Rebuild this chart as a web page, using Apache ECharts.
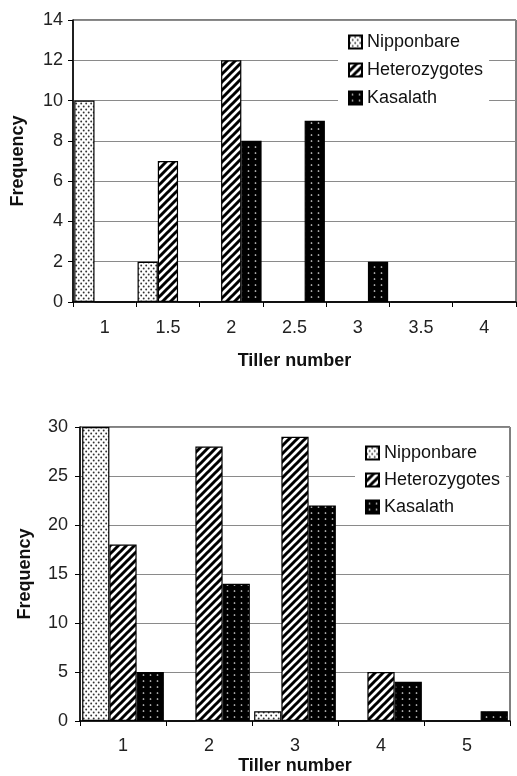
<!DOCTYPE html>
<html>
<head>
<meta charset="utf-8">
<script src="https://cdn.jsdelivr.net/npm/echarts@6/dist/echarts.min.js"></script>
<style>
html,body{margin:0;padding:0;background:#fff;}
#c{width:517px;height:776px;}
</style>
</head>
<body>
<div id="c"></div>
<script>
// ---- data ----
var seriesNames = ['Nipponbare', 'Heterozygotes', 'Kasalath'];

var topCategories = ['1', '1.5', '2', '2.5', '3', '3.5', '4'];
var topNipponbare = [10, 2, 0, 0, 0, 0, 0];
var topHeterozygotes = [0, 7, 12, 0, 0, 0, 0];
var topKasalath = [0, 0, 8, 9, 2, 0, 0];

var bottomCategories = ['1', '2', '3', '4', '5'];
var bottomNipponbare = [30, 0, 1, 0, 0];
var bottomHeterozygotes = [18, 28, 29, 5, 0];
var bottomKasalath = [5, 14, 22, 4, 1];

var xAxisTitle = 'Tiller number';
var yAxisTitle = 'Frequency';

// ---- patterns ----
function makeCanvas(w, h) {
  var c = document.createElement('canvas');
  c.width = w; c.height = h;
  return c;
}
function dotsPattern() {
  var c = makeCanvas(5, 6), g = c.getContext('2d');
  g.fillStyle = '#fff'; g.fillRect(0, 0, 5, 6);
  g.fillStyle = '#333';
  g.beginPath(); g.arc(1.2, 1.5, 0.95, 0, Math.PI * 2); g.fill();
  g.beginPath(); g.arc(3.7, 4.5, 0.95, 0, Math.PI * 2); g.fill();
  return c;
}
function stripePattern() {
  var s = 8;
  var c = makeCanvas(s, s), g = c.getContext('2d');
  g.fillStyle = '#fff'; g.fillRect(0, 0, s, s);
  g.strokeStyle = '#000'; g.lineWidth = 3;
  g.beginPath();
  g.moveTo(-2, s + 2); g.lineTo(s + 2, -2);
  g.moveTo(-s / 2 - 2, s / 2 + 2); g.lineTo(s / 2 + 2, -s / 2 - 2);
  g.moveTo(s / 2 - 2, s * 1.5 + 2); g.lineTo(s * 1.5 + 2, s / 2 - 2);
  g.stroke();
  return c;
}
function darkDotsPattern() {
  var c = makeCanvas(7, 6), g = c.getContext('2d');
  g.fillStyle = '#000'; g.fillRect(0, 0, 7, 6);
  g.fillStyle = '#e0e0e0';
  g.beginPath(); g.arc(3.5, 3, 0.85, 0, Math.PI * 2); g.fill();
  return c;
}
var fills = [
  { image: dotsPattern(), repeat: 'repeat' },
  { image: stripePattern(), repeat: 'repeat' },
  { image: darkDotsPattern(), repeat: 'repeat' }
];

var FONT = 'Liberation Sans, Arial, sans-serif';

function mkX(idx, cats, labelMargin, nameGap) {
  return {
    type: 'category', gridIndex: idx, data: cats,
    name: xAxisTitle, nameLocation: 'middle', nameGap: nameGap,
    nameTextStyle: { fontFamily: FONT, fontSize: 18, fontWeight: 'bold', color: '#111' },
    axisLine: { lineStyle: { color: '#000', width: 1.5 } },
    axisTick: { show: true, length: 5, lineStyle: { color: '#000', width: 1 } },
    axisLabel: { fontFamily: FONT, fontSize: 18, color: '#222', margin: labelMargin },
    splitLine: { show: false }
  };
}
function mkY(idx, max, interval, labelMargin, nameGap) {
  return {
    type: 'value', gridIndex: idx, min: 0, max: max, interval: interval,
    name: yAxisTitle, nameLocation: 'middle', nameGap: nameGap,
    nameTextStyle: { fontFamily: FONT, fontSize: 18, fontWeight: 'bold', color: '#111' },
    axisLine: { show: true, lineStyle: { color: '#000', width: 1.5 } },
    axisTick: { show: true, length: 5, lineStyle: { color: '#000', width: 1 } },
    axisLabel: { fontFamily: FONT, fontSize: 18, color: '#222', margin: labelMargin },
    splitLine: { show: true, lineStyle: { color: '#8a8a8a', width: 1 } }
  };
}
function mkSeries(name, data, i, axisIdx, catGap) {
  return {
    name: name, type: 'bar', xAxisIndex: axisIdx, yAxisIndex: axisIdx,
    data: data, barGap: '0%', barCategoryGap: catGap,
    itemStyle: { color: fills[i], borderColor: '#000', borderWidth: 1.2 },
    emphasis: { disabled: true }, animation: false
  };
}
function mkLegend(left, top, gap) {
  return {
    orient: 'vertical', left: left, top: top, itemGap: gap,
    itemWidth: 13, itemHeight: 13, icon: 'rect',
    backgroundColor: '#fff', padding: [6, 6, 6, 10],
    textStyle: { fontFamily: FONT, fontSize: 18, color: '#111' },
    selectedMode: false,
    data: seriesNames
  };
}

var chart = echarts.init(document.getElementById('c'));
chart.setOption({
  backgroundColor: '#fff',
  animation: false,
  grid: [
    { left: 73, top: 20, right: 1, bottom: 474, show: true, borderColor: '#000', borderWidth: 1, backgroundColor: 'transparent' },
    { left: 80, top: 427, right: 7, bottom: 53, show: true, borderColor: '#000', borderWidth: 1, backgroundColor: 'transparent' }
  ],
  xAxis: [
    mkX(0, topCategories, 17, 50),
    mkX(1, bottomCategories, 16, 36)
  ],
  yAxis: [
    mkY(0, 14, 2, 10, 46),
    mkY(1, 30, 5, 12, 46)
  ],
  legend: [
    mkLegend(338, 27, 10),
    mkLegend(355, 438, 9)
  ],
  series: [
    mkSeries(seriesNames[0], topNipponbare, 0, 0, '4%'),
    mkSeries(seriesNames[1], topHeterozygotes, 1, 0, '4%'),
    mkSeries(seriesNames[2], topKasalath, 2, 0, '4%'),
    mkSeries(seriesNames[0], bottomNipponbare, 0, 1, '5%'),
    mkSeries(seriesNames[1], bottomHeterozygotes, 1, 1, '5%'),
    mkSeries(seriesNames[2], bottomKasalath, 2, 1, '5%')
  ]
});
</script>
</body>
</html>
